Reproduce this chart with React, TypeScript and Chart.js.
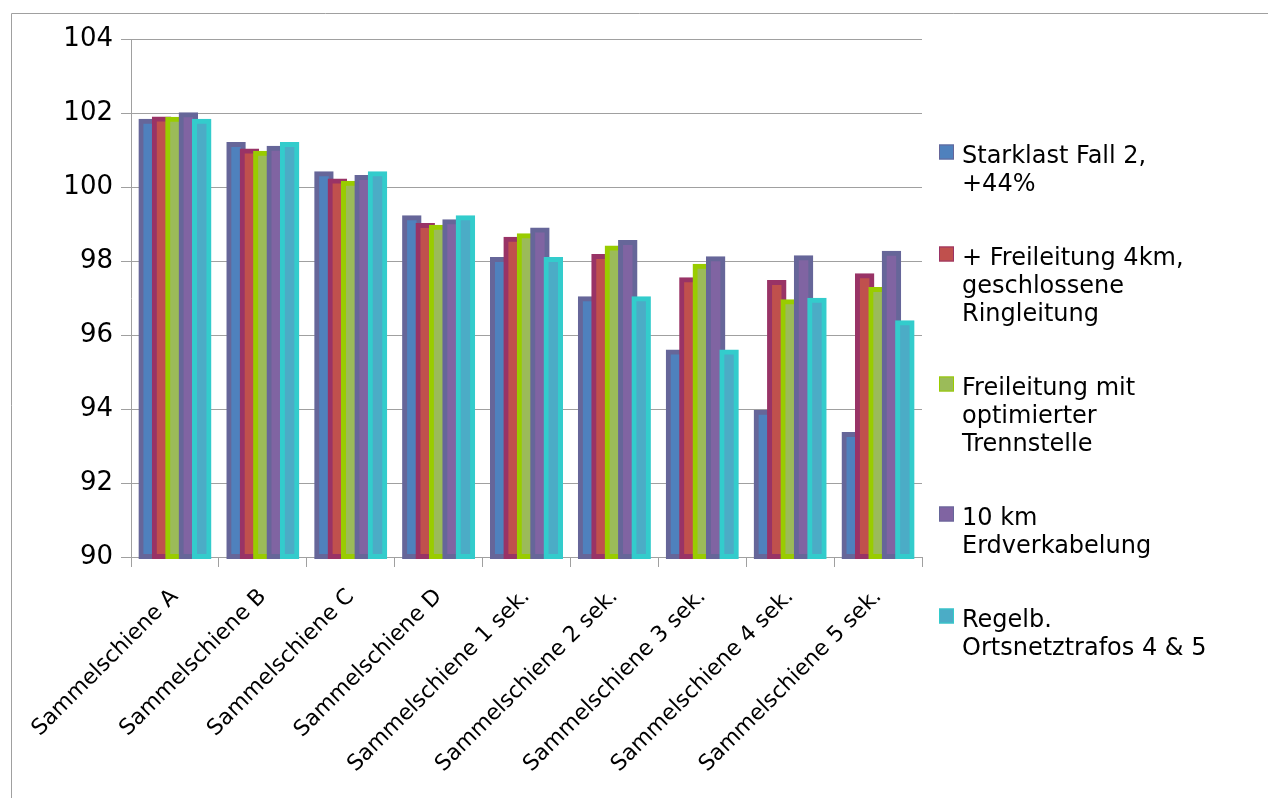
import React, { useEffect, useRef } from "react";
import { Chart, registerables } from "chart.js";

Chart.register(...registerables);

// Busbars along the feeder
const categories = [
  "Sammelschiene A",
  "Sammelschiene B",
  "Sammelschiene C",
  "Sammelschiene D",
  "Sammelschiene 1 sek.",
  "Sammelschiene 2 sek.",
  "Sammelschiene 3 sek.",
  "Sammelschiene 4 sek.",
  "Sammelschiene 5 sek.",
];

// Series names (line breaks as shown in the legend)
const seriesNames = [
  "Starklast Fall 2,\n+44%",
  "+ Freileitung 4km,\ngeschlossene\nRingleitung",
  "Freileitung mit\noptimierter\nTrennstelle",
  "10 km\nErdverkabelung",
  "Regelb.\nOrtsnetztrafos 4 & 5",
];

// Voltage per busbar (% of nominal)
const starklast = [101.78, 101.15, 100.36, 99.17, 98.04, 96.98, 95.54, 93.91, 93.31];
const freileitung4km = [101.84, 100.97, 100.16, 98.96, 98.59, 98.12, 97.49, 97.42, 97.6];
const freileitungOptimiert = [101.83, 100.91, 100.1, 98.91, 98.68, 98.35, 97.86, 96.9, 97.23];
const erdverkabelung = [101.95, 101.05, 100.26, 99.06, 98.84, 98.5, 98.06, 98.09, 98.21];
const regelbOnt = [101.78, 101.15, 100.36, 99.17, 98.04, 96.98, 95.54, 96.94, 96.33];

// Value axis range
const yMin = 90;
const yMax = 104;
const yStep = 2;

const fillColors = ["#4F81BD", "#C0504D", "#9BBB59", "#8064A2", "#4BACC6"];
const edgeColors = ["#666699", "#993366", "#99CC00", "#666699", "#33CCCC"];

const FONT = '"DejaVu Sans", sans-serif';
const GRID = "#a0a0a0";

// Thin grey frame along the top and left edge
const framePlugin = {
  id: "frame",
  beforeDraw(chart: any) {
    const ctx = chart.ctx as CanvasRenderingContext2D;
    ctx.save();
    ctx.strokeStyle = GRID;
    ctx.lineWidth = 1;
    ctx.beginPath();
    ctx.moveTo(11.5, chart.height);
    ctx.lineTo(11.5, 13.5);
    ctx.lineTo(chart.width, 13.5);
    ctx.stroke();
    ctx.restore();
  },
};

// Draw the bar series first-to-last so each later bar overlaps its left neighbour
const forwardOrderPlugin = {
  id: "forwardOrder",
  beforeDatasetsDraw(chart: any) {
    const metas = chart.getSortedVisibleDatasetMetas();
    for (const meta of metas) {
      meta.controller.draw();
    }
    return false;
  },
};

// Legend on the right with multi-line entries
const sideLegendPlugin = {
  id: "sideLegend",
  afterDraw(chart: any) {
    const ctx = chart.ctx as CanvasRenderingContext2D;
    const left = chart.chartArea.right + 17;
    const lineHeight = 28;
    const gap = 46;
    let baseline = 162.5;
    ctx.save();
    ctx.font = `24px ${FONT}`;
    ctx.textBaseline = "alphabetic";
    ctx.textAlign = "left";
    chart.data.datasets.forEach((ds: any) => {
      const lines = String(ds.label).split("\n");
      ctx.fillStyle = ds.backgroundColor;
      ctx.fillRect(left, baseline - 18, 15, 15);
      ctx.strokeStyle = ds.borderColor;
      ctx.lineWidth = 1;
      ctx.strokeRect(left + 0.5, baseline - 17.5, 14, 14);
      ctx.fillStyle = "#000";
      lines.forEach((line, i) => ctx.fillText(line, left + 23, baseline + i * lineHeight));
      baseline += lines.length * lineHeight + gap;
    });
    ctx.restore();
  },
};

export default function App() {
  const canvasRef = useRef<HTMLCanvasElement | null>(null);

  useEffect(() => {
    const canvas = canvasRef.current;
    if (!canvas) return;
    Chart.defaults.font.family = FONT;
    Chart.defaults.color = "#000";

    const series = [starklast, freileitung4km, freileitungOptimiert, erdverkabelung, regelbOnt];

    const chart = new Chart(canvas, {
      type: "bar",
      data: {
        labels: categories,
        datasets: series.map((values, i) => ({
          label: seriesNames[i],
          data: values,
          base: yMin,
          backgroundColor: fillColors[i],
          borderColor: edgeColors[i],
          borderWidth: 5,
          borderSkipped: false,
          inflateAmount: 2.5,
          categoryPercentage: 0.762,
          barPercentage: 1.08,
        })),
      },
      options: {
        responsive: false,
        animation: false,
        devicePixelRatio: 1,
        layout: { padding: { left: 0, top: 39, right: 346, bottom: 0 } },
        plugins: {
          legend: { display: false },
          tooltip: { enabled: false },
        },
        scales: {
          x: {
            offset: true,
            grid: {
              offset: true,
              drawOnChartArea: false,
              drawTicks: true,
              tickLength: 10,
              color: GRID,
            },
            border: { display: true, color: GRID },
            ticks: {
              autoSkip: false,
              maxRotation: 45,
              minRotation: 45,
              padding: 17,
              color: "#000",
              font: { size: 22, family: FONT },
            },
            afterFit(scale: any) {
              scale.height = 241;
            },
          },
          y: {
            min: yMin,
            max: yMax,
            grid: { color: GRID, tickLength: 10 },
            border: { display: true, color: GRID },
            ticks: {
              stepSize: yStep,
              padding: 8,
              color: "#000",
              font: { size: 26, family: FONT },
            },
            afterFit(scale: any) {
              scale.width = 131;
            },
          },
        },
      },
      plugins: [framePlugin, forwardOrderPlugin, sideLegendPlugin],
    } as any);

    return () => chart.destroy();
  }, []);

  return (
    <div style={{ position: "fixed", left: 0, top: 0, width: 1268, height: 798, background: "#fff" }}>
      <canvas ref={canvasRef} width={1268} height={798} style={{ width: 1268, height: 798, display: "block" }} />
    </div>
  );
}
